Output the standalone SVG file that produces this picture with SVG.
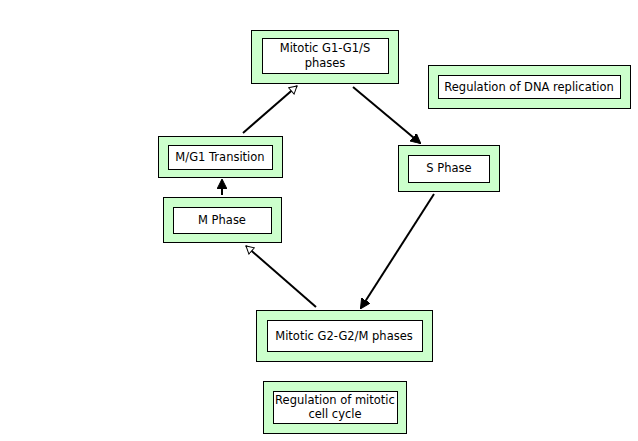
<svg xmlns="http://www.w3.org/2000/svg" width="638" height="441" viewBox="0 0 638 441">
<defs>
<style>
.outer{fill:#ccffcc;stroke:#000;stroke-width:1}
.inner{fill:#fff;stroke:#000;stroke-width:1}
.lbl{font-family:"DejaVu Sans",sans-serif;font-size:11.5px;text-anchor:middle;fill:#000}
.edge{stroke:#000;stroke-width:2;fill:none}
</style>
<marker id="filled" viewBox="0 0 10 10" refX="9" refY="5" markerWidth="5" markerHeight="5" orient="auto" markerUnits="strokeWidth">
<path d="M0,0 L10,5 L0,10 Z" fill="#000" stroke="#000" stroke-width="1"/>
</marker>
<marker id="open" viewBox="0 0 12 12" refX="10" refY="6" markerWidth="5" markerHeight="5" orient="auto" markerUnits="strokeWidth">
<path d="M1,1 L10,6 L1,11 Z" fill="#fff" stroke="#000" stroke-width="1.2"/>
</marker>
</defs>
<rect width="638" height="441" fill="#fff"/>
<g id="edges">
<line class="edge" x1="243" y1="133" x2="297" y2="86" marker-end="url(#open)"/>
<line class="edge" x1="353" y1="87" x2="420" y2="143" marker-end="url(#filled)"/>
<line class="edge" x1="434" y1="194" x2="361" y2="308" marker-end="url(#filled)"/>
<line class="edge" x1="316" y1="307" x2="246" y2="246" marker-end="url(#open)"/>
<line class="edge" x1="222" y1="195" x2="222" y2="180" marker-end="url(#filled)"/>
</g>
<g id="g1">
<rect class="outer" x="251.5" y="30.5" width="147" height="53"/>
<rect class="inner" x="262.5" y="38.5" width="126" height="35"/>
<text class="lbl" x="325" y="52">Mitotic G1-G1/S</text>
<text class="lbl" x="325" y="67">phases</text>
</g>
<g id="dna">
<rect class="outer" x="428.5" y="65.5" width="202" height="43"/>
<rect class="inner" x="438.5" y="75.5" width="182" height="23"/>
<text class="lbl" x="529" y="91">Regulation of DNA replication</text>
</g>
<g id="sphase">
<rect class="outer" x="398.5" y="145.5" width="101" height="46"/>
<rect class="inner" x="408.5" y="155.5" width="81" height="27"/>
<text class="lbl" x="449" y="172">S Phase</text>
</g>
<g id="mg1">
<rect class="outer" x="158.5" y="136.5" width="124" height="41"/>
<rect class="inner" x="168.5" y="145.5" width="104" height="24"/>
<text class="lbl" x="220" y="161">M/G1 Transition</text>
</g>
<g id="mphase">
<rect class="outer" x="163.5" y="197.5" width="118" height="45"/>
<rect class="inner" x="173.5" y="207.5" width="98" height="26"/>
<text class="lbl" x="222" y="224">M Phase</text>
</g>
<g id="g2">
<rect class="outer" x="256.5" y="310.5" width="176" height="51"/>
<rect class="inner" x="267.5" y="320.5" width="155" height="31"/>
<text class="lbl" x="344" y="340">Mitotic G2-G2/M phases</text>
</g>
<g id="regmit">
<rect class="outer" x="263.5" y="381.5" width="143" height="52"/>
<rect class="inner" x="273.5" y="391.5" width="124" height="32"/>
<text class="lbl" x="335" y="404">Regulation of mitotic</text>
<text class="lbl" x="335" y="418">cell cycle</text>
</g>
</svg>
